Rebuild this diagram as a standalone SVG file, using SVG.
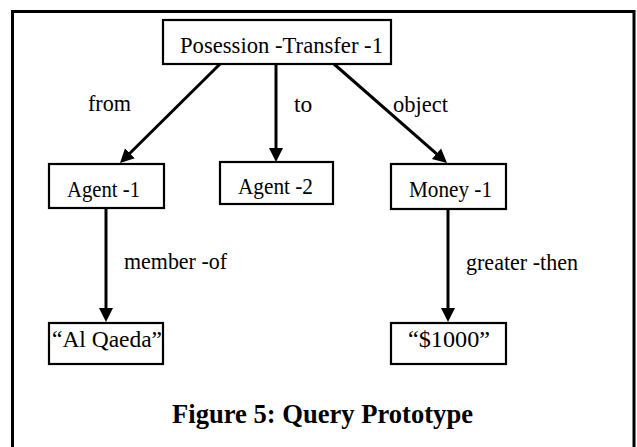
<svg xmlns="http://www.w3.org/2000/svg" width="637" height="447" viewBox="0 0 637 447">
  <style>
    .box { fill: #ffffff; stroke: #000000; stroke-width: 2.2; }
    .lbl { font-family: "Liberation Serif", "Times New Roman", serif; font-size: 23.5px; fill: #000000; }
    .edge { stroke: #000000; stroke-width: 3; fill: none; marker-end: url(#head); }
    .cap { font-family: "Liberation Serif", "Times New Roman", serif; font-size: 26.5px; font-weight: bold; fill: #000000; }
  </style>
  <defs>
    <marker id="head" markerUnits="userSpaceOnUse" markerWidth="16" markerHeight="16" viewBox="0 0 16 16" refX="4" refY="8" orient="auto">
      <path d="M0,1 L14,8 L0,15 z" fill="#000000"/>
    </marker>
  </defs>

  <rect width="637" height="447" fill="#ffffff"/>
  <!-- outer frame -->
  <rect x="12.5" y="11.5" width="621.5" height="440" fill="none" stroke="#000000" stroke-width="3"/>

  <g id="edges">
    <line class="edge" x1="220" y1="64" x2="127.1" y2="156"/>
    <line class="edge" x1="276" y1="64" x2="276" y2="152"/>
    <line class="edge" x1="334" y1="64" x2="439.5" y2="156.4"/>
    <line class="edge" x1="106" y1="208" x2="106" y2="312"/>
    <line class="edge" x1="448" y1="209" x2="448" y2="312"/>
    <text class="lbl" x="88" y="111" textLength="43" lengthAdjust="spacingAndGlyphs">from</text>
    <text class="lbl" x="294" y="112">to</text>
    <text class="lbl" x="393" y="112" textLength="55" lengthAdjust="spacingAndGlyphs">object</text>
    <text class="lbl" x="124" y="269" textLength="103" lengthAdjust="spacingAndGlyphs">member -of</text>
    <text class="lbl" x="466" y="270" textLength="112" lengthAdjust="spacingAndGlyphs">greater -then</text>
  </g>

  <g id="posession-transfer-1">
    <rect class="box" x="163" y="20" width="228" height="44"/>
    <text class="lbl" x="180" y="53" textLength="203" lengthAdjust="spacingAndGlyphs">Posession -Transfer -1</text>
  </g>
  <g id="agent-1">
    <rect class="box" x="49" y="164" width="115" height="44"/>
    <text class="lbl" x="67" y="197" textLength="73" lengthAdjust="spacingAndGlyphs">Agent -1</text>
  </g>
  <g id="agent-2">
    <rect class="box" x="220" y="162" width="113" height="42"/>
    <text class="lbl" x="238" y="194" textLength="75" lengthAdjust="spacingAndGlyphs">Agent -2</text>
  </g>
  <g id="money-1">
    <rect class="box" x="391" y="164" width="115" height="45"/>
    <text class="lbl" x="409" y="197" textLength="83" lengthAdjust="spacingAndGlyphs">Money -1</text>
  </g>
  <g id="al-qaeda">
    <rect class="box" x="49" y="323" width="114" height="41"/>
    <text class="lbl" x="52" y="347" textLength="110" lengthAdjust="spacingAndGlyphs">“Al Qaeda”</text>
  </g>
  <g id="amount-1000">
    <rect class="box" x="391" y="323" width="115" height="41"/>
    <text class="lbl" x="408" y="347" textLength="82" lengthAdjust="spacingAndGlyphs">“$1000”</text>
  </g>

  <text class="cap" x="172" y="423" textLength="301" lengthAdjust="spacingAndGlyphs">Figure 5: Query Prototype</text>
</svg>
